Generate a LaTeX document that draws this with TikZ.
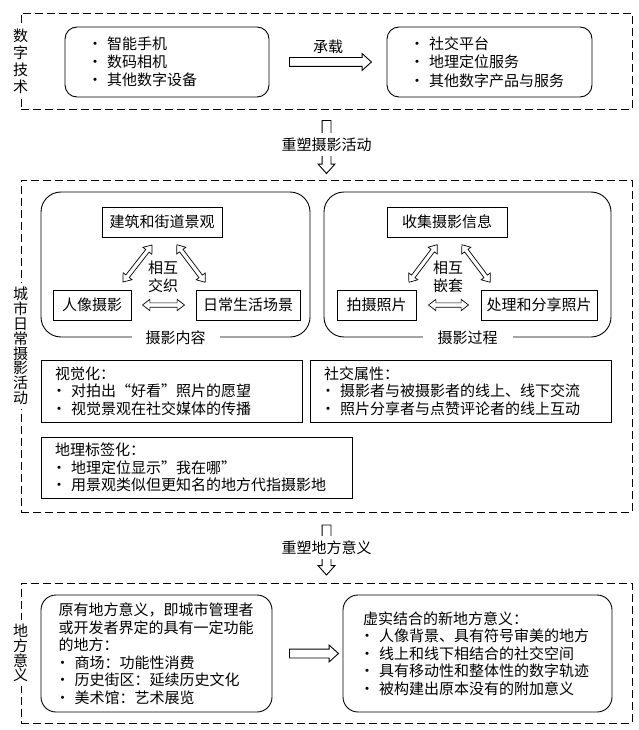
\documentclass[tikz,border=0pt]{standalone}
\usepackage{fontspec}
\setmainfont{Noto Sans CJK SC}
\usepackage{tikz}
\usetikzlibrary{positioning,shapes.arrows}
\newcommand{\fs}{\fontsize{15pt}{17.5pt}\selectfont}
\newcommand{\itm}{\makebox[8pt][c]{•}\hspace{8pt}}
\tikzset{
  zone/.style={rectangle, draw, dash pattern=on 8pt off 4pt, line width=0.9pt, inner sep=0pt},
  rbox/.style={rectangle, draw, rounded corners=12pt, align=left, line width=0.9pt,
               font=\fontsize{15pt}{18.3pt}\selectfont, inner xsep=26pt, minimum height=70pt},
  panel/.style={rectangle, draw, rounded corners=20pt, line width=0.9pt, inner sep=0pt,
                minimum height=145pt},
  sbox/.style={rectangle, draw, align=center, font=\fs, line width=0.9pt, inner sep=0pt,
               minimum height=30pt},
  lbox/.style={rectangle, draw, align=left, font=\fs, line width=0.9pt, inner xsep=14pt},
  side/.style={fill=white, align=center, inner xsep=1pt, inner ysep=4pt,
               font=\fontsize{15pt}{14.8pt}\selectfont},
  lbl/.style={font=\fs, inner sep=1pt},
  bigarr/.style={single arrow, draw, line width=0.9pt, fill=white, inner xsep=0pt, inner ysep=4pt,
                 single arrow head extend=4pt, single arrow tip angle=84},
  dblarr/.style={double arrow, draw, line width=0.7pt, inner xsep=0pt, inner ysep=1.8pt,
                 double arrow head extend=3.5pt, double arrow tip angle=75},
}

\begin{document}
\begin{tikzpicture}[x=1pt, y=-1pt]
\fill[white] (0,0) rectangle (639,730);
\useasboundingbox (0,0) rectangle (639,730);
% digital technology
\node[zone, minimum width=611pt, minimum height=96pt] (tech) at (326.5,61) {};
\node[side, font=\fontsize{15pt}{17pt}\selectfont] (techlbl) at (tech.west) {数\\字\\技\\术};
\node[rbox, text width=152pt] (dev) at (167,62) {\itm 智能手机\\\itm 数码相机\\\itm 其他数字设备};
\node[rbox, text width=153pt] (srv) at (489.5,62) {\itm 社交平台\\\itm 地理定位服务\\\itm 其他数字产品与服务};
\path (dev.east) -- (srv.west) node[midway, bigarr, minimum height=82pt] (carry) {};
\node[lbl, above=2pt of carry] (carrylbl) {承载};
% everyday urban photography
\node[zone, minimum width=611pt, minimum height=332pt] (photo) at (326.5,346) {};
\node[side] (photolbl) at (photo.west) {城\\市\\日\\常\\摄\\影\\活\\动};
\path (tech.south) -- (photo.north) node[midway, bigarr, rotate=-90, minimum height=53pt] (down1) {};
\node[lbl, fill=white, inner xsep=2pt, inner ysep=5pt] (reshape1) at (down1) {重塑摄影活动};
\node[panel, minimum width=269pt] (content) at (175.5,264.5) {};
\node[panel, minimum width=287pt] (process) at (467.5,264.5) {};
\node[lbl, fill=white, inner xsep=14pt] (contentlbl) at (content.south) {摄影内容};
\node[lbl, fill=white, inner xsep=15pt] (processlbl) at (process.south) {摄影过程};
\node[sbox, minimum width=120pt] (arch) at (162,222) {建筑和街道景观};
\node[sbox, minimum width=78pt] (port) at (92,305) {人像摄影};
\node[sbox, minimum width=104pt] (daily) at (248,305) {日常生活场景};
\node[lbl, align=center] (weave) at (163,277) {相互\\交织};
\node[dblarr, minimum height=47pt, rotate=52] (mixl) at (137.5,263.5) {};
\node[dblarr, minimum height=47pt, rotate=-53] (mixr) at (191,263.5) {};
\path (port.east) -- (daily.west) node[midway, dblarr, minimum height=42pt] (mixh) {};
\node[sbox, minimum width=120pt] (collect) at (447,222) {收集摄影信息};
\node[sbox, minimum width=79pt] (shoot) at (376.5,305) {拍摄照片};
\node[sbox, minimum width=116pt] (share) at (539,305) {处理和分享照片};
\node[lbl, align=center] (nest) at (448,277) {相互\\嵌套};
\node[dblarr, minimum height=47pt, rotate=53] (nestl) at (423,263.5) {};
\node[dblarr, minimum height=47pt, rotate=-53] (nestr) at (476,263.5) {};
\path (shoot.east) -- (share.west) node[midway, dblarr, minimum height=40pt] (nesth) {};
\node[lbox, text width=233pt, minimum height=62pt] (visual) at (171.5,391)
  {视觉化：\\\itm 对拍出“好看”照片的愿望\\\itm 视觉景观在社交媒体的传播};
\node[lbox, text width=273pt, minimum height=62pt] (social) at (460.5,391)
  {社交属性：\\\itm 摄影者与被摄影者的线上、线下交流\\\itm 照片分享者与点赞评论者的线上互动};
\node[lbox, text width=283pt, minimum height=61pt] (geotag) at (196.5,467.5)
  {地理标签化：\\\itm 地理定位显示"我在哪"\\\itm 用景观类似但更知名的地方代指摄影地};
% place meaning
\node[zone, minimum width=611pt, minimum height=140pt] (place) at (326.5,653) {};
\node[side] (placelbl) at (place.west) {地\\方\\意\\义};
\path (photo.south) -- (place.north) node[midway, bigarr, rotate=-90, minimum height=50pt] (down2) {};
\node[lbl, fill=white, inner xsep=2pt, inner ysep=5pt] (reshape2) at (down2) {重塑地方意义};
\node[rbox, font=\fs, rounded corners=15pt, text width=196pt, inner xsep=17.5pt, minimum height=117pt] (old) at (156.5,653.5)
  {原有地方意义，即城市管理者\\或开发者界定的具有一定功能\\的地方：\\\itm 商场：功能性消费\\\itm 历史街区：延续历史文化\\\itm 美术馆：艺术展览};
\node[rbox, font=\fs, rounded corners=15pt, text width=229pt, inner xsep=20pt, minimum height=117pt] (new) at (477.5,653.5)
  {虚实结合的新地方意义：\\\itm 人像背景、具有符号审美的地方\\\itm 线上和线下相结合的社交空间\\\itm 具有移动性和整体性的数字轨迹\\\itm 被构建出原本没有的附加意义};
\path (old.east) -- (new.west) node[midway, xshift=4pt, bigarr, minimum height=49pt] (turn) {};
\end{tikzpicture}
\end{document}
